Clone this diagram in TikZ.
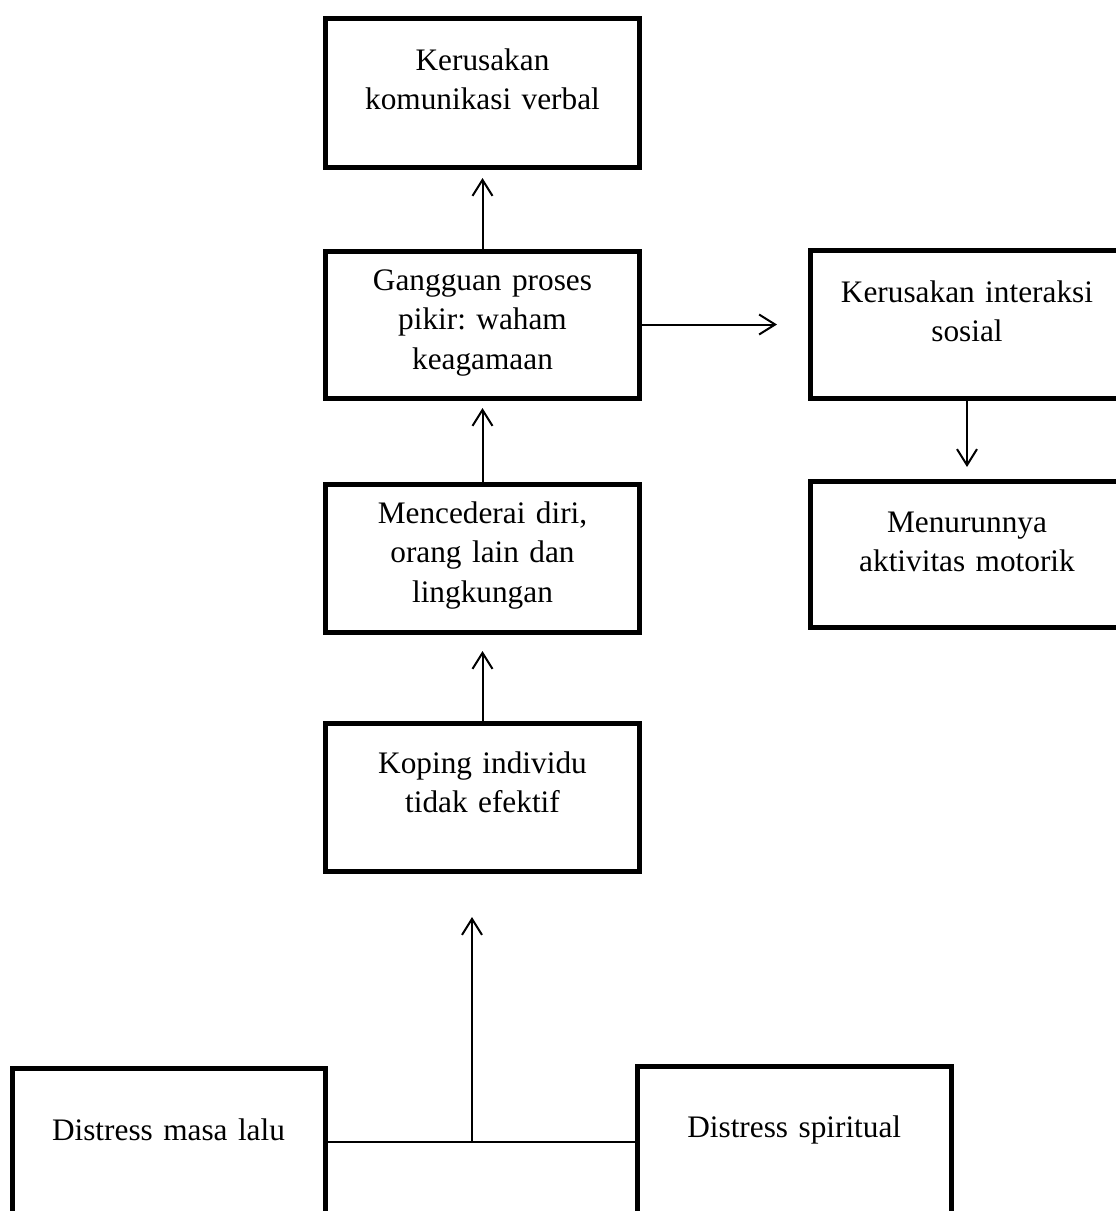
\documentclass[tikz,border=0pt]{standalone}
\usepackage{fontspec}
\setmainfont{Liberation Serif}
\usetikzlibrary{arrows.meta}
\frenchspacing
\begin{document}
\begin{tikzpicture}[x=1pt,y=-1pt,
  box/.style={draw, line width=5pt, rectangle, inner sep=0pt, outer sep=0pt,
    text width=314pt, align=center, anchor=base,
    font=\fontsize{31.3}{39.5}\selectfont},
  conn/.style={line width=2pt},
  arr/.style={conn, -{Straight Barb[length=16pt,width=20pt]}}]
\clip (0,0) rectangle (1116,1211);
\useasboundingbox (0,0) rectangle (1116,1211);
\fill[white] (0,0) rectangle (1116,1211);
% top-aligned boxes: node base = first baseline
\node[box, text height=52pt, text depth=97pt] (b1) at (482.5,70) {Kerusakan\\komunikasi verbal};
\node[box, text height=39pt, text depth=108pt] (b2) at (482.5,290) {Gangguan proses\\pikir: waham\\keagamaan};
\node[box, text height=52pt, text depth=96pt] (b3) at (967,302) {Kerusakan interaksi\\sosial};
\node[box, text height=51pt, text depth=95pt] (b4) at (967,532) {Menurunnya\\aktivitas motorik};
\node[box, text height=39pt, text depth=109pt] (b5) at (482.5,523) {Mencederai diri,\\orang lain dan\\lingkungan};
\node[box, text height=50pt, text depth=98pt] (b6) at (482.5,773) {Koping individu\\tidak efektif};
\node[box, text width=313pt, text height=72pt, text depth=76pt] (bl) at (168.5,1140) {Distress masa lalu};
\node[box, text width=313.5pt, text height=71pt, text depth=77pt] (br) at (794.25,1137) {Distress spiritual};
% connectors
\draw[arr, shorten >=11pt] (b2.north) -- (b1.south);
\draw[arr, shorten >=10pt] (b5.north) -- (b2.south);
\draw[arr, shorten >=19pt] (b6.north) -- (b5.south);
\draw[arr, shorten >=33pt] (b2.east) -- (b2.east -| b3.west);
\draw[arr, shorten >=14pt] (b3.south) -- (b4.north);
\draw[conn] (bl.east) -- (bl.east -| br.west);
\coordinate (j) at (472,1142);
\draw[arr, shorten >=46pt] (j) -- (j |- b6.south);
\end{tikzpicture}
\end{document}
